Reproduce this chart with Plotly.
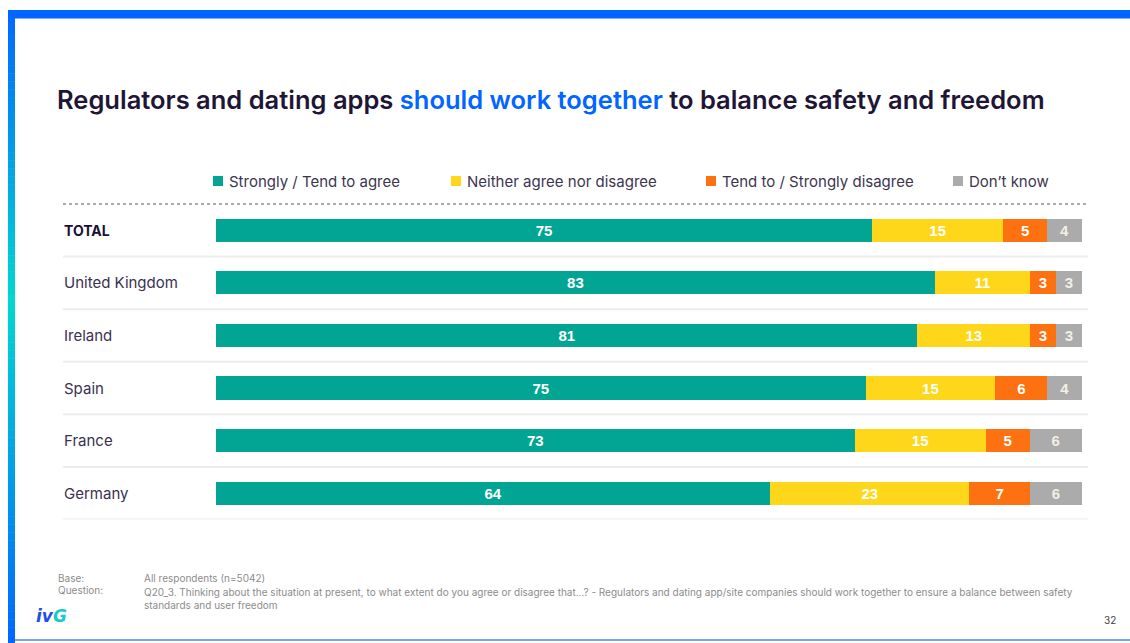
import plotly.graph_objects as go

# Survey results: share of respondents per answer, by market
categories = ["TOTAL", "United Kingdom", "Ireland", "Spain", "France", "Germany"]
agree = [75, 83, 81, 75, 73, 64]
neither = [15, 11, 13, 15, 15, 23]
disagree = [5, 3, 3, 6, 5, 7]
dont_know = [4, 3, 3, 4, 6, 6]

series_names = ["Strongly / Tend to agree", "Neither agree nor disagree",
                "Tend to / Strongly disagree", "Don\u2019t know"]
series_values = [agree, neither, disagree, dont_know]
series_colors = ["#02A594", "#FED71A", "#FE7110", "#ABABAB"]
label_colors = ["#FFFFFF", "#FFFFFF", "#FFFFFF", "#F3EFE4"]

W, H = 1130, 643
FONT = "Inter"


def px(x):
    return x / W


def py(y):
    return 1 - y / H


fig = go.Figure()
for name, vals, col, lc in zip(series_names, series_values, series_colors, label_colors):
    fig.add_trace(go.Bar(
        y=categories, x=vals, name=name, orientation="h",
        marker=dict(color=col, line=dict(width=0)),
        text=vals, texttemplate="%{text}", textposition="inside",
        insidetextanchor="middle", textangle=0,
        textfont=dict(family="Liberation Sans, Arial", size=15, color=lc, weight="bold"),
        hoverinfo="skip",
    ))

shapes = []
annotations = []

# Page frame: top bar, gradient left bar, thin bottom rule
shapes.append(dict(type="rect", xref="paper", yref="paper", x0=px(8), x1=1, y0=py(18), y1=py(10),
                   fillcolor="#0066FF", line_width=0, layer="above"))
shapes.append(dict(type="line", xref="paper", yref="paper", x0=px(15), x1=1, y0=py(18.5), y1=py(18.5),
                   line=dict(color="#7FB0FF", width=1)))


def lerp(c1, c2, t):
    a = [int(c1[i:i + 2], 16) for i in (1, 3, 5)]
    b = [int(c2[i:i + 2], 16) for i in (1, 3, 5)]
    return "#" + "".join(f"{round(a[k] + (b[k] - a[k]) * t):02x}" for k in range(3))


stops = [(10, "#0066FF"), (300, "#00D8D0"), (643, "#0066FF")]
n_steps = 80
for i in range(n_steps):
    y0 = 10 + (643 - 10) * i / n_steps
    y1 = 10 + (643 - 10) * (i + 1) / n_steps
    ym = (y0 + y1) / 2
    if ym <= stops[1][0]:
        c = lerp(stops[0][1], stops[1][1], (ym - stops[0][0]) / (stops[1][0] - stops[0][0]))
    else:
        c = lerp(stops[1][1], stops[2][1], (ym - stops[1][0]) / (stops[2][0] - stops[1][0]))
    shapes.append(dict(type="rect", xref="paper", yref="paper", x0=px(8), x1=px(15),
                       y0=py(y1 + 0.5), y1=py(y0), fillcolor=c, line_width=0, layer="above"))
shapes.append(dict(type="line", xref="paper", yref="paper", x0=px(15), x1=1, y0=py(640), y1=py(640),
                   line=dict(color="#6FA8F5", width=2)))

# Dotted rule under the legend and row separators
shapes.append(dict(type="line", xref="paper", yref="paper", x0=px(63), x1=px(1088), y0=py(204), y1=py(204),
                   line=dict(color="#55506A", width=1, dash="dot")))
for i in range(len(categories)):
    shapes.append(dict(type="line", xref="paper", yref="y", x0=px(63), x1=px(1088), y0=i + 0.5, y1=i + 0.5,
                       line=dict(color="#EDEDED", width=2), layer="below"))

# Title with highlighted phrase
annotations.append(dict(
    xref="paper", yref="paper", x=px(55), y=py(99), xanchor="left", yanchor="middle", showarrow=False,
    text="Regulators and dating apps <span style='color:#0066FF'>should work together</span> to balance safety and freedom",
    font=dict(family=FONT, size=25.5, color="#1F1637", weight=600),
))

# Legend row
legend_x = [213, 451, 706, 953]
for name, col, lx in zip(series_names, series_colors, legend_x):
    shapes.append(dict(type="rect", xref="paper", yref="paper", x0=px(lx), x1=px(lx + 10),
                       y0=py(186), y1=py(176), fillcolor=col, line_width=0))
    annotations.append(dict(xref="paper", yref="paper", x=px(lx + 14), y=py(181), xanchor="left",
                            yanchor="middle", showarrow=False, text=name,
                            font=dict(family=FONT, size=15, color="#3D3550")))

# Row labels
for i, cat in enumerate(categories):
    bold = i == 0
    annotations.append(dict(xref="paper", yref="y", x=px(62), y=cat, xanchor="left", yanchor="middle",
                            showarrow=False, text=f"<b>{cat}</b>" if bold else cat,
                            font=dict(family=FONT, size=15 if not bold else 14,
                                      color="#1A1033" if bold else "#3A3150")))

# Footnotes
note_font = dict(family=FONT, size=10, color="#8C8C8C")
annotations += [
    dict(xref="paper", yref="paper", x=px(56), y=py(578), xanchor="left", yanchor="middle",
         showarrow=False, text="Base:", font=note_font),
    dict(xref="paper", yref="paper", x=px(142), y=py(578), xanchor="left", yanchor="middle",
         showarrow=False, text="All respondents (n=5042)", font=note_font),
    dict(xref="paper", yref="paper", x=px(56), y=py(590), xanchor="left", yanchor="middle",
         showarrow=False, text="Question:", font=note_font),
    dict(xref="paper", yref="paper", x=px(142), y=py(583.5), xanchor="left", yanchor="top",
         showarrow=False, align="left",
         text="Q20_3. Thinking about the situation at present, to what extent do you agree or disagree that...? - "
              "Regulators and dating app/site companies should work together to ensure a balance between safety<br>"
              "standards and user freedom",
         font=note_font),
    dict(xref="paper", yref="paper", x=px(1118), y=py(620), xanchor="right", yanchor="middle",
         showarrow=False, text="32", font=dict(family=FONT, size=10, color="#444444")),
    dict(xref="paper", yref="paper", x=px(34), y=py(616), xanchor="left", yanchor="middle",
         showarrow=False,
         text="<i><b><span style='color:#1E50E6'>iv</span><span style='color:#19C9C8'>G</span></b></i>",
         font=dict(family="DejaVu Sans", size=17)),
]

fig.update_layout(
    width=W, height=H, margin=dict(l=0, r=0, t=0, b=0),
    paper_bgcolor="white", plot_bgcolor="white",
    barmode="stack", barnorm="percent", bargap=0.56,
    showlegend=False,
    xaxis=dict(domain=[px(216), px(1082)], range=[0, 100], visible=False, fixedrange=True),
    yaxis=dict(domain=[py(519.5), py(204)], categoryorder="array", categoryarray=categories,
               range=[len(categories) - 0.5, -0.5], visible=False, fixedrange=True),
    shapes=shapes, annotations=annotations,
    uniformtext=dict(mode="show", minsize=10),
)

fig.write_html("out.html")
